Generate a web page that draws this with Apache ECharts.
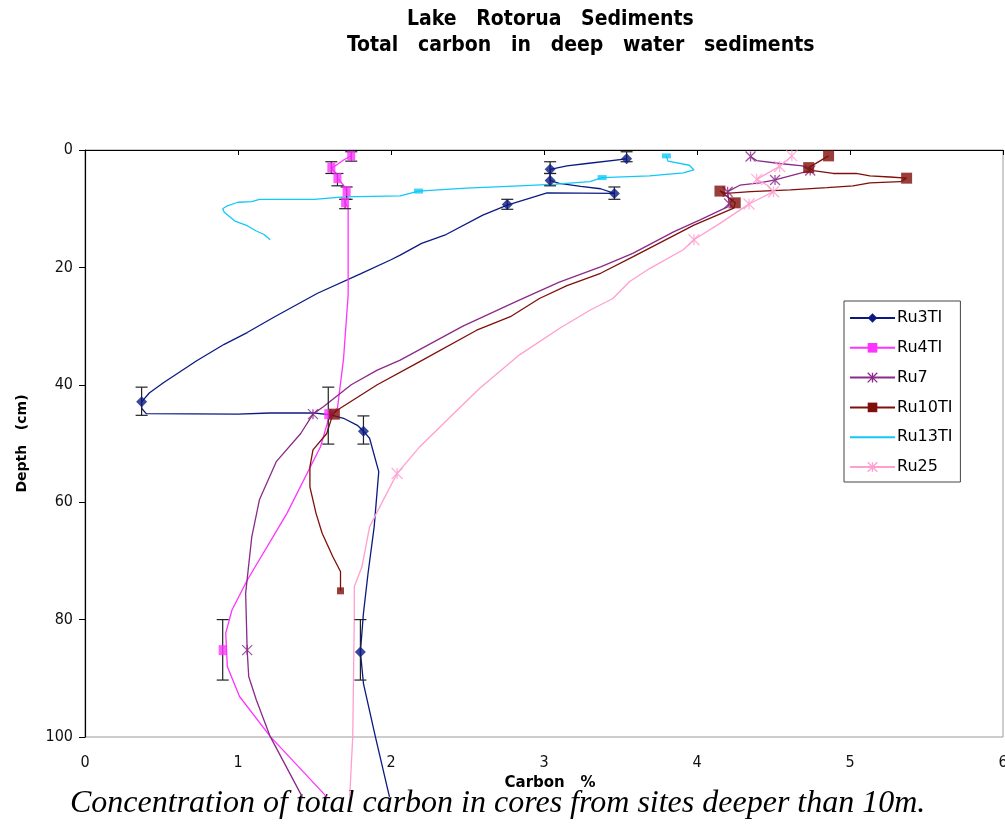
<!DOCTYPE html>
<html>
<head>
<meta charset="utf-8">
<script src="https://cdn.jsdelivr.net/npm/echarts@6/dist/echarts.min.js"></script>
<style>
  html, body { margin: 0; padding: 0; background: #fff; }
  #chart { width: 1005px; height: 826px; }
</style>
</head>
<body>
<div id="chart"></div>
<script>
// Axis ticks
const carbonTicks = [0, 1, 2, 3, 4, 5, 6];
const depthTicks = [0, 20, 40, 60, 80, 100];

// Core names in legend order
const coreNames = ['Ru3TI', 'Ru4TI', 'Ru7', 'Ru10TI', 'Ru13TI', 'Ru25'];

// Down-core profiles: [carbon %, depth cm]
const ru3Profile = [
  [3.54, 1.5], [3.28, 2.3], [3.15, 2.7], [3.04, 3.3], [3.04, 5.2], [3.10, 5.7], [3.24, 6.2],
  [3.37, 6.6], [3.46, 7.4], [3.02, 7.3], [2.76, 9.4], [2.60, 11.1], [2.36, 14.4], [2.20, 15.9],
  [2.06, 17.9], [2.00, 18.7], [1.80, 21.1], [1.52, 24.4], [1.24, 28.4], [1.06, 31.1], [0.91, 33.1],
  [0.73, 35.9], [0.51, 39.7], [0.42, 41.4], [0.37, 42.9], [0.37, 44.0], [0.40, 44.9], [1.00, 45.0],
  [1.21, 44.8], [1.49, 44.8], [1.60, 45.1], [1.69, 45.7], [1.78, 46.9], [1.82, 47.9], [1.86, 49.1],
  [1.92, 54.8], [1.89, 64.2], [1.85, 72.1], [1.82, 78.9], [1.80, 85.5], [1.82, 90.9], [1.90, 100.2],
  [1.99, 110.2]
];
const ru4Profile = [
  [1.74, 1.0], [1.69, 1.7], [1.63, 2.8], [1.61, 3.0], [1.65, 4.3], [1.65, 4.8], [1.69, 6.0],
  [1.71, 7.0], [1.71, 8.0], [1.70, 8.9], [1.72, 9.9], [1.72, 24.7], [1.69, 35.5], [1.65, 44.0],
  [1.60, 45.1], [1.54, 50.5], [1.32, 61.9], [1.06, 73.3], [0.96, 78.4], [0.92, 82.3], [0.93, 88.0],
  [1.01, 93.1], [1.21, 99.9], [1.58, 110.2]
];
const ru7Profile = [
  [4.35, 1.1], [4.39, 1.8], [4.54, 2.3], [4.69, 2.7], [4.74, 3.5], [4.67, 4.0], [4.51, 5.1],
  [4.41, 5.6], [4.28, 6.0], [4.20, 7.1], [4.21, 9.1], [4.20, 9.7], [4.02, 11.9], [3.85, 13.9],
  [3.58, 17.6], [3.37, 19.9], [3.10, 22.5], [2.82, 25.8], [2.47, 30.0], [2.06, 35.8], [1.91, 37.5],
  [1.74, 40.0], [1.56, 43.7], [1.49, 45.0], [1.41, 48.3], [1.25, 53.1], [1.14, 59.6], [1.09, 65.9],
  [1.05, 75.5], [1.06, 85.2], [1.07, 89.7], [1.12, 93.7], [1.21, 99.9], [1.42, 110.2]
];
const ru10Profile = [
  [4.86, 1.0], [4.73, 3.0], [4.76, 3.5], [4.89, 4.0], [5.04, 4.0], [5.13, 4.4], [5.26, 4.6],
  [5.37, 4.8], [5.33, 5.4], [5.13, 5.6], [5.02, 6.1], [4.85, 6.4], [4.61, 6.8], [4.35, 7.1],
  [4.19, 7.4], [4.15, 7.0], [4.25, 9.0], [4.24, 9.9], [3.98, 12.8], [3.58, 18.2], [3.37, 21.0],
  [3.15, 23.1], [2.97, 25.3], [2.78, 28.4], [2.56, 30.7], [2.17, 36.3], [1.91, 40.0], [1.65, 44.3],
  [1.62, 45.0], [1.58, 48.3], [1.49, 51.1], [1.47, 54.0], [1.47, 57.4], [1.51, 61.9], [1.55, 65.3],
  [1.62, 69.3], [1.67, 71.8], [1.67, 75.1]
];
const ru13Profile = [
  [3.80, 1.0], [3.81, 1.9], [3.95, 2.6], [3.98, 3.4], [3.91, 3.9], [3.69, 4.4], [3.38, 4.7],
  [3.30, 5.4], [3.08, 5.8], [2.84, 6.1], [2.49, 6.5], [2.18, 7.0], [2.06, 7.8], [1.69, 8.0],
  [1.50, 8.4], [1.14, 8.4], [1.09, 8.8], [1.00, 8.9], [0.93, 9.5], [0.90, 10.0], [0.91, 10.6],
  [0.98, 12.1], [1.06, 12.9], [1.12, 13.8], [1.17, 14.4], [1.21, 15.3]
];
const ru25Profile = [
  [4.62, 1.0], [4.54, 2.8], [4.39, 5.0], [4.46, 6.0], [4.50, 7.1], [4.43, 8.0], [4.34, 9.2],
  [4.30, 9.9], [4.15, 12.5], [3.98, 15.3], [3.91, 17.0], [3.69, 20.2], [3.56, 22.4], [3.45, 25.3],
  [3.30, 27.3], [3.10, 30.4], [2.84, 34.9], [2.58, 40.6], [2.41, 44.9], [2.19, 50.5], [2.04, 55.1],
  [1.95, 59.6], [1.86, 64.2], [1.81, 71.0], [1.76, 74.4], [1.76, 79.5], [1.75, 99.9], [1.73, 110.2]
];

// Measured samples: [carbon %, depth cm]
const ru3Samples = [[3.54, 1.5], [3.04, 3.3], [3.04, 5.2], [3.46, 7.4], [2.76, 9.3], [0.37, 42.9], [1.82, 47.9], [1.80, 85.5]];
const ru4Samples = [[1.74, 1.0], [1.61, 3.0], [1.65, 4.8], [1.71, 7.0], [1.70, 8.9], [1.59, 45.0], [0.90, 85.2]];
const ru7Samples = [[4.35, 1.1], [4.74, 3.5], [4.51, 5.1], [4.20, 7.1], [4.21, 9.1], [1.49, 45.0], [1.06, 85.2]];
const ru10Samples = [[4.86, 1.0], [4.73, 3.0], [5.37, 4.8], [4.15, 7.0], [4.25, 9.0], [1.63, 45.0], [1.67, 75.1]];
const ru13Samples = [[3.80, 1.0], [3.38, 4.7], [2.18, 7.0]];
const ru25Samples = [[4.62, 1.0], [4.54, 2.8], [4.39, 5.0], [4.50, 7.1], [4.34, 9.2], [3.98, 15.3], [2.04, 55.1]];

// Sampled depth interval of each measured slice: [top, bottom] in cm
const ru3Intervals = [[0.3, 2.0], [2.0, 4.0], [4.0, 6.1], [6.3, 8.4], [8.4, 10.1], [40.4, 45.2], [45.3, 50.1], [80.0, 90.3]];
const ru4Intervals = [[0.3, 1.9], [2.0, 4.0], [4.0, 6.1], [6.3, 8.4], [8.4, 10.0], [40.4, 50.1], [80.0, 90.3]];

const crossPath = 'path://M0,0L10,10M10,0L0,10M5,0L5,10';

const styles = {
  Ru3TI:  { color: '#0b1a82', symbol: 'diamond', size: [11, 11], stroke: false },
  Ru4TI:  { color: '#ff33ff', symbol: 'rect', size: [8, 10], stroke: false },
  Ru7:    { color: '#8a2a8a', symbol: crossPath, size: [10, 10], stroke: true },
  Ru10TI: { color: '#7f0f0a', symbol: 'rect', size: [11, 11], stroke: false },
  Ru13TI: { color: '#12c8f8', symbol: 'rect', size: [9, 5], stroke: false },
  Ru25:   { color: '#ff9fcf', symbol: crossPath, size: [11, 11], stroke: true }
};

const profiles = { Ru3TI: ru3Profile, Ru4TI: ru4Profile, Ru7: ru7Profile, Ru10TI: ru10Profile, Ru13TI: ru13Profile, Ru25: ru25Profile };
const samples = { Ru3TI: ru3Samples, Ru4TI: ru4Samples, Ru7: ru7Samples, Ru10TI: ru10Samples, Ru13TI: ru13Samples, Ru25: ru25Samples };
const intervals = { Ru3TI: ru3Intervals, Ru4TI: ru4Intervals };

function symbolItemStyle(st) {
  return st.stroke
    ? { color: 'rgba(0,0,0,0)', borderColor: st.color, borderWidth: 1.3 }
    : { color: st.color };
}

// Vertical error bars with end caps spanning each sample's depth interval
function errorBarSeries(name) {
  const pts = samples[name];
  const rng = intervals[name];
  return {
    name: name,
    type: 'custom',
    data: pts.map((p, i) => [p[0], rng[i][0], rng[i][1]]),
    encode: { x: 0, y: [1, 2] },
    z: 3,
    renderItem: function (params, api) {
      const top = api.coord([api.value(0), api.value(1)]);
      const bot = api.coord([api.value(0), api.value(2)]);
      const half = 6;
      const st = { stroke: '#222', lineWidth: 1.2 };
      return {
        type: 'group',
        children: [
          { type: 'line', shape: { x1: top[0], y1: top[1], x2: bot[0], y2: bot[1] }, style: st },
          { type: 'line', shape: { x1: top[0] - half, y1: top[1], x2: top[0] + half, y2: top[1] }, style: st },
          { type: 'line', shape: { x1: bot[0] - half, y1: bot[1], x2: bot[0] + half, y2: bot[1] }, style: st }
        ]
      };
    }
  };
}

const series = [];
coreNames.forEach(function (name) {
  const st = styles[name];
  series.push({
    name: name,
    type: 'line',
    data: profiles[name],
    showSymbol: false,
    symbol: st.symbol,
    symbolSize: st.size,
    clip: false,
    z: 2,
    lineStyle: { color: st.color, width: 1.3 },
    itemStyle: symbolItemStyle(st),
    emphasis: { disabled: true }
  });
});
coreNames.forEach(function (name) {
  if (intervals[name]) series.push(errorBarSeries(name));
});
coreNames.forEach(function (name) {
  const st = styles[name];
  series.push({
    name: name,
    type: 'scatter',
    data: samples[name],
    symbol: st.symbol,
    symbolSize: name === 'Ru10TI'
      ? function (v) { return v[1] > 70 ? [7, 7] : st.size; }
      : st.size,
    z: 4,
    itemStyle: symbolItemStyle(st),
    emphasis: { disabled: true }
  });
});

const legendData = coreNames.map(function (name) {
  const st = styles[name];
  if (name === 'Ru13TI') return { name: name, itemStyle: { opacity: 0 } };
  if (st.stroke) return { name: name, itemStyle: { color: 'rgba(0,0,0,0)', borderColor: st.color, borderWidth: 1.3 } };
  return { name: name };
});

const chart = echarts.init(document.getElementById('chart'), null, { renderer: 'canvas' });
chart.setOption({
  backgroundColor: '#fff',
  animation: false,
  grid: {
    left: 85, top: 150, width: 918, height: 587,
    outerBoundsMode: 'none',
    containLabel: false,
    show: true, borderColor: '#9a9a9a', borderWidth: 1, backgroundColor: 'transparent'
  },
  xAxis: {
    type: 'value',
    min: carbonTicks[0], max: carbonTicks[carbonTicks.length - 1], interval: 1,
    name: 'Carbon   %',
    nameLocation: 'middle',
    nameGap: 26,
    nameTextStyle: { fontFamily: 'DejaVu Sans', fontWeight: 'bold', fontSize: 15, color: '#000', padding: [0, 0, 0, 12] },
    axisLine: { lineStyle: { color: '#000', width: 1.2 } },
    axisTick: { inside: false, length: 5, lineStyle: { color: '#000' } },
    axisLabel: { margin: 18, fontFamily: 'DejaVu Sans Condensed', fontSize: 16, color: '#111' },
    splitLine: { show: false }
  },
  yAxis: {
    type: 'value',
    inverse: true,
    min: depthTicks[0], max: depthTicks[depthTicks.length - 1], interval: 20,
    name: 'Depth   (cm)',
    nameLocation: 'middle',
    nameGap: 56,
    nameRotate: 90,
    nameTextStyle: { fontFamily: 'DejaVu Sans', fontWeight: 'bold', fontSize: 14, color: '#000' },
    axisLine: { lineStyle: { color: '#000', width: 1.2 } },
    axisTick: { inside: false, length: 6, lineStyle: { color: '#000' } },
    axisLabel: { margin: 12, fontFamily: 'DejaVu Sans Condensed', fontSize: 16, color: '#111' },
    splitLine: { show: false }
  },
  legend: {
    orient: 'vertical',
    left: 844, top: 301,
    padding: [9, 8, 7, 5],
    itemWidth: 45, itemHeight: 12, itemGap: 13.8,
    borderColor: '#444', borderWidth: 1,
    backgroundColor: '#fff',
    textStyle: { fontFamily: 'DejaVu Sans', fontSize: 16, color: '#000', padding: [0, 0, 0, -3] },
    selectedMode: false,
    data: legendData
  },
  graphic: [
    {
      type: 'text', left: 407, top: 9,
      style: { text: 'Lake   Rotorua   Sediments', font: 'bold 21px "DejaVu Sans Condensed"', fill: '#000' }
    },
    {
      type: 'text', left: 347, top: 35,
      style: { text: 'Total   carbon   in   deep   water   sediments', font: 'bold 21px "DejaVu Sans Condensed"', fill: '#000' }
    },
    {
      type: 'text', left: 70, top: 788,
      style: { text: 'Concentration of total carbon in cores from sites deeper than 10m.', font: 'italic 32px "Liberation Serif"', fill: '#000' }
    }
  ],
  series: series
});
</script>
</body>
</html>
